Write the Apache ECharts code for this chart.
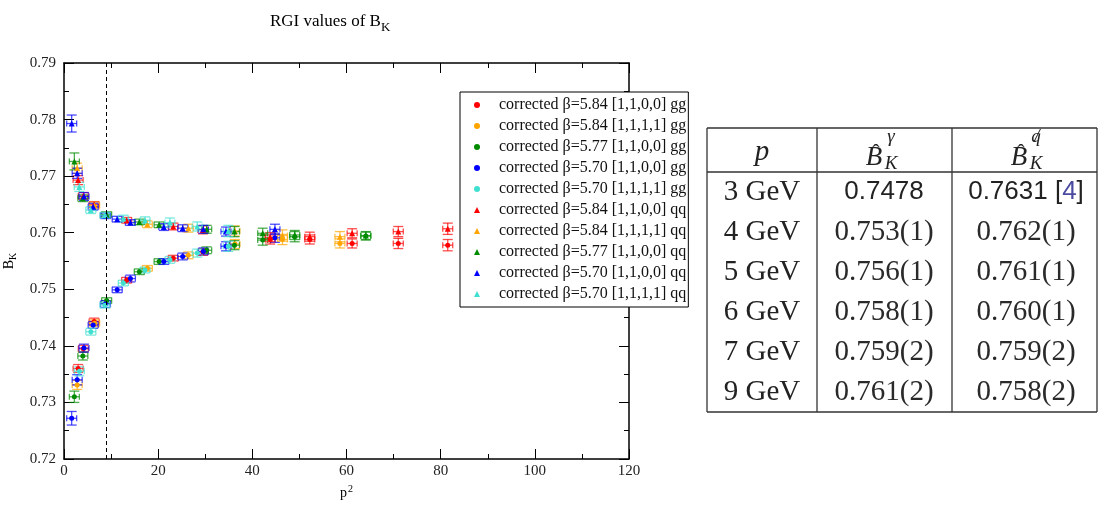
<!DOCTYPE html>
<html>
<head>
<meta charset="utf-8">
<script src="https://cdn.jsdelivr.net/npm/echarts@6/dist/echarts.min.js"></script>
<style>
  html, body { margin: 0; background: #fff; }
  #chart { width: 1100px; height: 509px; }
</style>
</head>
<body>
<div id="chart"></div>
<script>
// [p^2, B_K, error]
var b584a_gg = [[3.0,0.7360,0.0007],[4.1,0.7395,0.0006],[6.4,0.7443,0.0006],[13.3,0.7516,0.0005],[23.2,0.7555,0.0005],[29.5,0.7566,0.0006],[43.8,0.7588,0.0008],[52.2,0.7588,0.0008],[61.2,0.7581,0.0008],[71.0,0.7581,0.0009],[81.5,0.7578,0.0010]]
var b584b_gg = [[2.8,0.7331,0.0008],[6.5,0.7440,0.0006],[17.7,0.7537,0.0005],[26.4,0.7560,0.0006],[36.3,0.7580,0.0008],[46.4,0.7588,0.0009],[58.6,0.7581,0.0008]]
var b577a_gg = [[2.2,0.7310,0.0010],[4.0,0.7382,0.0007],[9.06,0.7480,0.0005],[16.0,0.7531,0.0005],[20.2,0.7549,0.0005],[30.3,0.7569,0.0006],[36.2,0.7578,0.0008],[42.2,0.7587,0.0009],[49.0,0.7593,0.0009],[64.1,0.7594,0.0007]]
var b570a_gg = [[1.63,0.7272,0.0012],[2.8,0.7340,0.0009],[4.25,0.7396,0.0007],[6.2,0.7437,0.0006],[8.8,0.7474,0.0006],[11.3,0.7499,0.0005],[14.1,0.7519,0.0006],[21.2,0.7549,0.0005],[25.2,0.7558,0.0006],[29.6,0.7567,0.0006],[34.4,0.7576,0.0008],[44.8,0.7591,0.0008]]
var b570b_gg = [[3.25,0.7355,0.0008],[5.7,0.7425,0.0006],[8.7,0.7472,0.0005],[12.6,0.7511,0.0005],[17.2,0.7534,0.0005],[22.5,0.7552,0.0006],[28.3,0.7564,0.0007],[34.9,0.7576,0.0009]]

var b584a_qq = [[3.0,0.7693,0.0008],[4.1,0.7665,0.0006],[6.4,0.7650,0.0005],[13.3,0.7622,0.0005],[23.2,0.7611,0.0006],[29.5,0.7605,0.0007],[43.8,0.7592,0.0008],[52.2,0.7593,0.0008],[61.2,0.7599,0.0008],[71.0,0.7602,0.0009],[81.5,0.7607,0.0010]]
var b584b_qq = [[2.8,0.7714,0.0009],[6.5,0.7648,0.0006],[17.7,0.7615,0.0006],[26.4,0.7608,0.0007],[36.3,0.7603,0.0009],[46.4,0.7595,0.0010],[58.6,0.7593,0.0009]]
var b577a_qq = [[2.2,0.7726,0.0015],[4.0,0.7661,0.0006],[9.06,0.7632,0.0005],[16.0,0.7619,0.0005],[20.2,0.7614,0.0005],[30.3,0.7606,0.0007],[36.2,0.7602,0.0009],[42.2,0.7599,0.0009],[49.0,0.7596,0.0008],[64.1,0.7595,0.0007]]
var b570a_qq = [[1.63,0.7793,0.0015],[2.8,0.7705,0.0009],[4.25,0.7664,0.0007],[6.2,0.7646,0.0006],[8.8,0.7630,0.0005],[11.3,0.7624,0.0005],[14.1,0.7618,0.0005],[21.2,0.7610,0.0006],[25.2,0.7608,0.0006],[29.6,0.7606,0.0007],[34.4,0.7602,0.0008],[44.8,0.7606,0.0009]]
var b570b_qq = [[3.25,0.7681,0.0008],[5.7,0.7640,0.0006],[8.7,0.7631,0.0005],[12.6,0.7625,0.0006],[17.2,0.7622,0.0006],[22.5,0.7618,0.0008],[28.3,0.7611,0.0008],[34.9,0.7603,0.0010]]

var cutP2 = 9 // (3 GeV)^2

// table
var tableP = ['3 GeV', '4 GeV', '5 GeV', '6 GeV', '7 GeV', '9 GeV']
var tableGamma = ['0.7478', '0.753(1)', '0.756(1)', '0.758(1)', '0.759(2)', '0.761(2)']
var tableQ = ['0.7631 [4]', '0.762(1)', '0.761(1)', '0.760(1)', '0.759(2)', '0.758(2)']

var SERIF = '"Liberation Serif", "Times New Roman", serif'
var SANS = '"Liberation Sans", Arial, sans-serif'

var sets = [
  { name: 'corrected β=5.84 [1,1,0,0] gg', color: '#ff0000', symbol: 'circle', data: b584a_gg },
  { name: 'corrected β=5.84 [1,1,1,1] gg', color: '#ffa500', symbol: 'circle', data: b584b_gg },
  { name: 'corrected β=5.77 [1,1,0,0] gg', color: '#008b00', symbol: 'circle', data: b577a_gg },
  { name: 'corrected β=5.70 [1,1,0,0] gg', color: '#0000ff', symbol: 'circle', data: b570a_gg },
  { name: 'corrected β=5.70 [1,1,1,1] gg', color: '#40e0d0', symbol: 'circle', data: b570b_gg },
  { name: 'corrected β=5.84 [1,1,0,0] qq', color: '#ff0000', symbol: 'triangle', data: b584a_qq },
  { name: 'corrected β=5.84 [1,1,1,1] qq', color: '#ffa500', symbol: 'triangle', data: b584b_qq },
  { name: 'corrected β=5.77 [1,1,0,0] qq', color: '#008b00', symbol: 'triangle', data: b577a_qq },
  { name: 'corrected β=5.70 [1,1,0,0] qq', color: '#0000ff', symbol: 'triangle', data: b570a_qq },
  { name: 'corrected β=5.70 [1,1,1,1] qq', color: '#40e0d0', symbol: 'triangle', data: b570b_qq }
]

/* error bars: vertical from data, short horizontal bar, both capped */
function errorBars(params, api) {
  var x = api.value(0), y = api.value(1), e = api.value(2)
  var c = api.coord([x, y])
  var top = api.coord([x, y + e])[1]
  var bot = api.coord([x, y - e])[1]
  var cap = 5, hw = 5, hcap = 3
  var style = { stroke: api.visual('color'), lineWidth: 1.3, opacity: 0.7 }
  var seg = function (x1, y1, x2, y2) {
    return { type: 'line', shape: { x1: x1, y1: y1, x2: x2, y2: y2 }, style: style }
  }
  return {
    type: 'group',
    children: [
      seg(c[0], top, c[0], bot),
      seg(c[0] - cap, top, c[0] + cap, top),
      seg(c[0] - cap, bot, c[0] + cap, bot),
      seg(c[0] - hw, c[1], c[0] + hw, c[1]),
      seg(c[0] - hw, c[1] - hcap, c[0] - hw, c[1] + hcap),
      seg(c[0] + hw, c[1] - hcap, c[0] + hw, c[1] + hcap)
    ]
  }
}

var series = []
sets.forEach(function (s, i) {
  series.push({
    name: 'err' + i,
    type: 'custom',
    renderItem: errorBars,
    itemStyle: { color: s.color },
    encode: { x: 0, y: 1 },
    data: s.data,
    silent: true,
    z: 2
  })
  var sc = {
    name: s.name,
    type: 'scatter',
    symbol: s.symbol,
    symbolSize: s.symbol === 'circle' ? 5 : 6,
    itemStyle: { color: s.color, opacity: 1 },
    data: s.data.map(function (d) { return [d[0], d[1]] }),
    silent: true,
    z: 3
  }
  if (i === 0) {
    sc.markLine = {
      silent: true,
      symbol: 'none',
      label: { show: false },
      lineStyle: { color: '#000', type: [4, 3], width: 1 },
      data: [{ xAxis: cutP2 }]
    }
  }
  series.push(sc)
})

/* table drawn with graphic */
var tx = [707, 817, 952, 1097]
var ty = [128, 172, 412]
var rowY0 = 192, rowH = 40
var colC = [762, 884, 1026]
var graphic = []
var line = function (x1, y1, x2, y2) {
  graphic.push({ type: 'line', shape: { x1: x1, y1: y1, x2: x2, y2: y2 }, style: { stroke: '#333', lineWidth: 1.3 } })
}
ty.forEach(function (y) { line(tx[0], y, tx[3], y) })
tx.forEach(function (x) { line(x, ty[0], x, ty[2]) })
var text = function (x, y, str, font, extra) {
  var st = { text: str, font: font, fill: '#222', align: 'center', verticalAlign: 'middle', textAlign: 'center', textVerticalAlign: 'middle' }
  for (var k in extra) st[k] = extra[k]
  graphic.push({ type: 'text', x: x, y: y, style: st })
}
// header
text(colC[0], 152, 'p', 'italic 29px ' + SERIF)
text(874, 158, 'B', 'italic 27px ' + SERIF)
text(876, 153, 'ˆ', '22px ' + SERIF)
text(891, 164, 'K', 'italic 19px ' + SERIF)
text(891, 137, 'γ', 'italic 19px ' + SERIF)
text(1019, 158, 'B', 'italic 27px ' + SERIF)
text(1021, 153, 'ˆ', '22px ' + SERIF)
text(1036, 164, 'K', 'italic 19px ' + SERIF)
text(1036, 137, 'q', 'italic 19px ' + SERIF)
text(1037, 137, '/', 'italic 19px ' + SERIF)
// rows
tableP.forEach(function (p, i) {
  var y = rowY0 + i * rowH
  text(colC[0], y, p, '29px ' + SERIF)
  if (i === 0) {
    text(colC[1], y, tableGamma[i], '26px ' + SANS)
    var parts = tableQ[i].match(/^(.*\[)(.*)(\])$/)
    text(colC[2], y, '{s|' + parts[1] + '}{l|' + parts[2] + '}{s|' + parts[3] + '}', '26px ' + SANS, {
      rich: {
        s: { font: '26px ' + SANS, fill: '#222' },
        l: { font: '26px ' + SANS, fill: '#4a4aa0' }
      }
    })
  } else {
    text(colC[1], y, tableGamma[i], '29px ' + SERIF, { fill: '#2a2a2a' })
    text(colC[2], y, tableQ[i], '29px ' + SERIF, { fill: '#2a2a2a' })
  }
})

var axisCommon = {
  min: 0, max: 120, interval: 20,
  axisLine: { show: true, onZero: false, lineStyle: { color: '#000', width: 1.5 } },
  axisTick: { show: true, inside: true, length: 10, lineStyle: { color: '#000', width: 1 } },
  minorTick: { show: true, splitNumber: 2, length: 5, lineStyle: { color: '#000', width: 1 } },
  splitLine: { show: false }
}
var yCommon = {
  min: 0.72, max: 0.79, interval: 0.01,
  axisLine: { show: true, onZero: false, lineStyle: { color: '#000', width: 1.5 } },
  axisTick: { show: true, inside: true, length: 10, lineStyle: { color: '#000', width: 1 } },
  minorTick: { show: true, splitNumber: 2, length: 5, lineStyle: { color: '#000', width: 1 } },
  splitLine: { show: false }
}

var chart = echarts.init(document.getElementById('chart'))
chart.setOption({
  animation: false,
  title: {
    text: '{a|RGI values of B}{b|K}',
    left: 265, top: 8,
    textStyle: {
      fontWeight: 'normal',
      rich: {
        a: { fontFamily: SERIF, fontSize: 17, fontWeight: 'normal', color: '#000', verticalAlign: 'bottom', padding: [0, 0, 4, 0] },
        b: { fontFamily: SERIF, fontSize: 13, fontWeight: 'normal', color: '#000', verticalAlign: 'bottom' }
      }
    }
  },
  grid: { left: 64, right: 471, top: 63, bottom: 50, outerBoundsMode: 'none' },
  legend: {
    orient: 'vertical',
    left: 460, top: 92,
    padding: [5, 2, 5, 14],
    itemGap: 5,
    itemWidth: 6, itemHeight: 6,
    backgroundColor: '#fff',
    borderColor: '#000', borderWidth: 1, borderRadius: 0,
    selectedMode: false,
    textStyle: { fontFamily: SERIF, fontSize: 16, lineHeight: 16, color: '#111', padding: [0, 0, 0, 14] },
    data: sets.map(function (s) { return { name: s.name, icon: s.symbol } })
  },
  xAxis: [
    Object.assign({}, axisCommon, {
      type: 'value', position: 'bottom',
      name: '{p|p}{s|2}', nameLocation: 'middle', nameGap: 22,
      nameTextStyle: {
        rich: {
          p: { fontFamily: SERIF, fontSize: 14, color: '#000', verticalAlign: 'bottom' },
          s: { fontFamily: SERIF, fontSize: 10, color: '#000', verticalAlign: 'bottom', padding: [0, 0, 6, 1] }
        }
      },
      axisLabel: { fontFamily: SERIF, fontSize: 15, color: '#222', margin: 5 }
    }),
    Object.assign({}, axisCommon, { type: 'value', position: 'top', axisLabel: { show: false } })
  ],
  yAxis: [
    Object.assign({}, yCommon, {
      type: 'value', position: 'left',
      name: '{b|B}{k|K}', nameLocation: 'middle', nameGap: 44,
      nameTextStyle: {
        rich: {
          b: { fontFamily: SERIF, fontSize: 14, color: '#000', verticalAlign: 'bottom', padding: [0, 0, 3, 0] },
          k: { fontFamily: SERIF, fontSize: 10, color: '#000', verticalAlign: 'bottom' }
        }
      },
      axisLabel: { fontFamily: SERIF, fontSize: 15, color: '#222', margin: 8, formatter: function (v) { return v.toFixed(2) } }
    }),
    Object.assign({}, yCommon, { type: 'value', position: 'right', axisLabel: { show: false } })
  ],
  graphic: graphic,
  series: series
})
</script>
</body>
</html>
